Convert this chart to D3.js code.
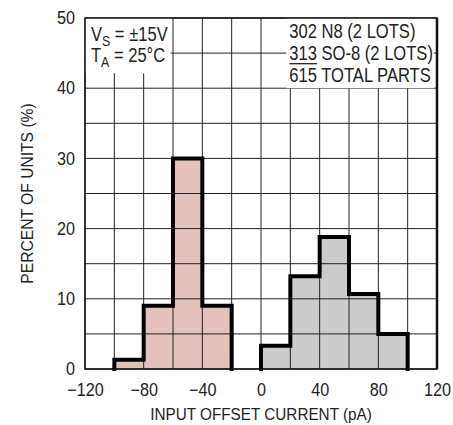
<!DOCTYPE html>
<html>
<head>
<meta charset="utf-8">
<script src="https://cdn.jsdelivr.net/npm/d3@7/dist/d3.min.js"></script>
<style>
  body { margin: 0; background: #fff; }
  svg text { font-family: "Liberation Sans", Arial, Helvetica, sans-serif; fill: #222; }
</style>
</head>
<body>
<svg id="chart"></svg>
<script>
// histogram bins (left edge, pA) and percent of units
const binWidth = 20;
const negBins = [-100, -80, -60, -40];
const negValues = [1.3, 9, 30, 9];
const posBins = [0, 20, 40, 60, 80];
const posValues = [3.3, 13.2, 18.8, 10.7, 5.0];

const xTicks = [-120, -80, -40, 0, 40, 80, 120];
const yTicks = [0, 10, 20, 30, 40, 50];
const xGrid = d3.range(-120, 121, 20);
const yGrid = d3.range(0, 51, 5);

const notesLeft = [["V", "S", " = ±15V"], ["T", "A", " = 25°C"]];
const notesRight = ["302 N8 (2 LOTS)", "313 SO-8 (2 LOTS)", "615 TOTAL PARTS"];

const config = {
    containerWidth: 453,
    containerHeight: 425,
    margin: {top: 18, right: 16, bottom: 56, left: 85}
};

// the original face is a condensed grotesque, so squeeze Liberation Sans a bit
const narrow = 0.85;
const noteSize = 19.5;

const width = config.containerWidth - config.margin.left - config.margin.right;
const height = config.containerHeight - config.margin.top - config.margin.bottom;

const svg = d3.select("#chart")
    .attr("width", config.containerWidth)
    .attr("height", config.containerHeight);

const chart = svg.append("g")
    .attr("transform", `translate(${config.margin.left},${config.margin.top})`);

const xScale = d3.scaleLinear().domain([-120, 120]).range([0, width]);
const yScale = d3.scaleLinear().domain([0, 50]).range([height, 0]);

// bar fills
function drawBars(bins, values, fill) {
    chart.selectAll(null)
        .data(bins.map((b, i) => [b, values[i]]))
        .join("rect")
        .attr("x", d => xScale(d[0]))
        .attr("width", d => xScale(d[0] + binWidth) - xScale(d[0]))
        .attr("y", d => yScale(d[1]))
        .attr("height", d => yScale(0) - yScale(d[1]))
        .attr("fill", fill);
}
drawBars(negBins, negValues, "#e4c1bb");
drawBars(posBins, posValues, "#cccccc");

// grid on top of fills
chart.append("g").selectAll("line")
    .data(xGrid)
    .join("line")
    .attr("x1", d => xScale(d)).attr("x2", d => xScale(d))
    .attr("y1", 0).attr("y2", height)
    .attr("stroke", "#222").attr("stroke-width", 1);

chart.append("g").selectAll("line")
    .data(yGrid)
    .join("line")
    .attr("x1", 0).attr("x2", width)
    .attr("y1", d => yScale(d)).attr("y2", d => yScale(d))
    .attr("stroke", "#222").attr("stroke-width", 1);

// thick step outline around each histogram
function outline(bins, values) {
    const pts = [[bins[0], 0]];
    bins.forEach((b, i) => {
        pts.push([b, values[i]]);
        pts.push([b + binWidth, values[i]]);
    });
    pts.push([bins[bins.length - 1] + binWidth, 0]);
    const line = d3.line().x(d => xScale(d[0])).y(d => yScale(d[1]));
    chart.append("path")
        .attr("d", line(pts))
        .attr("fill", "none")
        .attr("stroke", "#000")
        .attr("stroke-width", 4)
        .attr("stroke-linejoin", "miter")
        .attr("stroke-linecap", "square");
}
outline(negBins, negValues);
outline(posBins, posValues);

// annotation: supply and temperature, top left
const leftNote = chart.append("g");
const leftInner = leftNote.append("g").attr("transform", `translate(6,0) scale(${narrow},1)`);
const leftText = leftInner.append("text").attr("font-size", noteSize);
notesLeft.forEach((n, i) => {
    const t = leftText.append("tspan").attr("x", 0).attr("y", 23 + i * 21);
    t.append("tspan").text(n[0]);
    t.append("tspan").attr("font-size", 14.5).attr("dy", 5).text(n[1]);
    t.append("tspan").attr("dy", -5).text(n[2]);
});
const lb = leftInner.node().getBBox();
leftNote.insert("rect", "g")
    .attr("x", 0).attr("y", 0)
    .attr("width", 6 + lb.width * narrow + 3)
    .attr("height", lb.y + lb.height + 3)
    .attr("fill", "#fff");

// annotation: part counts, top right
const rightNote = chart.append("g")
    .attr("transform", `translate(${xScale(20) - 1},0)`);
const rightInner = rightNote.append("g").attr("transform", `scale(${narrow},1)`);
const rightText = rightInner.append("text").attr("font-size", noteSize);
notesRight.forEach((n, i) => {
    rightText.append("tspan")
        .attr("x", 0).attr("y", 20.5 + i * 21.7)
        .text(n);
});
const rb = rightText.node().getBBox();
rightNote.insert("rect", "g")
    .attr("x", -3).attr("y", 0)
    .attr("width", rb.width * narrow + 4)
    .attr("height", rb.y + rb.height + 2)
    .attr("fill", "#fff");
// underline under the second count
const u = rightText.node().getSubStringLength(notesRight[0].length, 3) * narrow;
rightNote.append("line")
    .attr("x1", 0).attr("x2", u)
    .attr("y1", 20.5 + 21.7 + 3.5).attr("y2", 20.5 + 21.7 + 3.5)
    .attr("stroke", "#222").attr("stroke-width", 1.3);

// frame
chart.append("rect")
    .attr("width", width).attr("height", height)
    .attr("fill", "none")
    .attr("stroke", "#111").attr("stroke-width", 1.5);
chart.append("line")
    .attr("x1", width).attr("x2", width)
    .attr("y1", 0).attr("y2", height)
    .attr("stroke", "#111").attr("stroke-width", 2.5);

// axes
const tickScale = 0.9;
const xAxis = d3.axisBottom(xScale).tickValues(xTicks).tickSize(0).tickPadding(14);
const yAxis = d3.axisLeft(yScale).tickValues(yTicks).tickSize(0).tickPadding(10);

const xAxisG = chart.append("g")
    .attr("transform", `translate(0,${height})`)
    .call(xAxis);
const yAxisG = chart.append("g").call(yAxis);

[xAxisG, yAxisG].forEach(g => {
    g.select(".domain").remove();
    g.attr("font-family", null).attr("font-size", null);
    g.selectAll("text")
        .attr("font-size", 18)
        .attr("fill", "#222")
        .attr("transform", `scale(${tickScale},1)`);
});
yAxisG.selectAll("text").attr("x", -10 / tickScale);

// axis titles
svg.append("text")
    .attr("transform", `translate(${config.margin.left + width / 2},420) scale(0.9,1)`)
    .attr("text-anchor", "middle")
    .attr("font-size", 17)
    .text("INPUT OFFSET CURRENT (pA)");

svg.append("text")
    .attr("transform", `translate(33,${config.margin.top + height / 2}) rotate(-90) scale(0.92,1)`)
    .attr("text-anchor", "middle")
    .attr("font-size", 17)
    .text("PERCENT OF UNITS (%)");
</script>
</body>
</html>
